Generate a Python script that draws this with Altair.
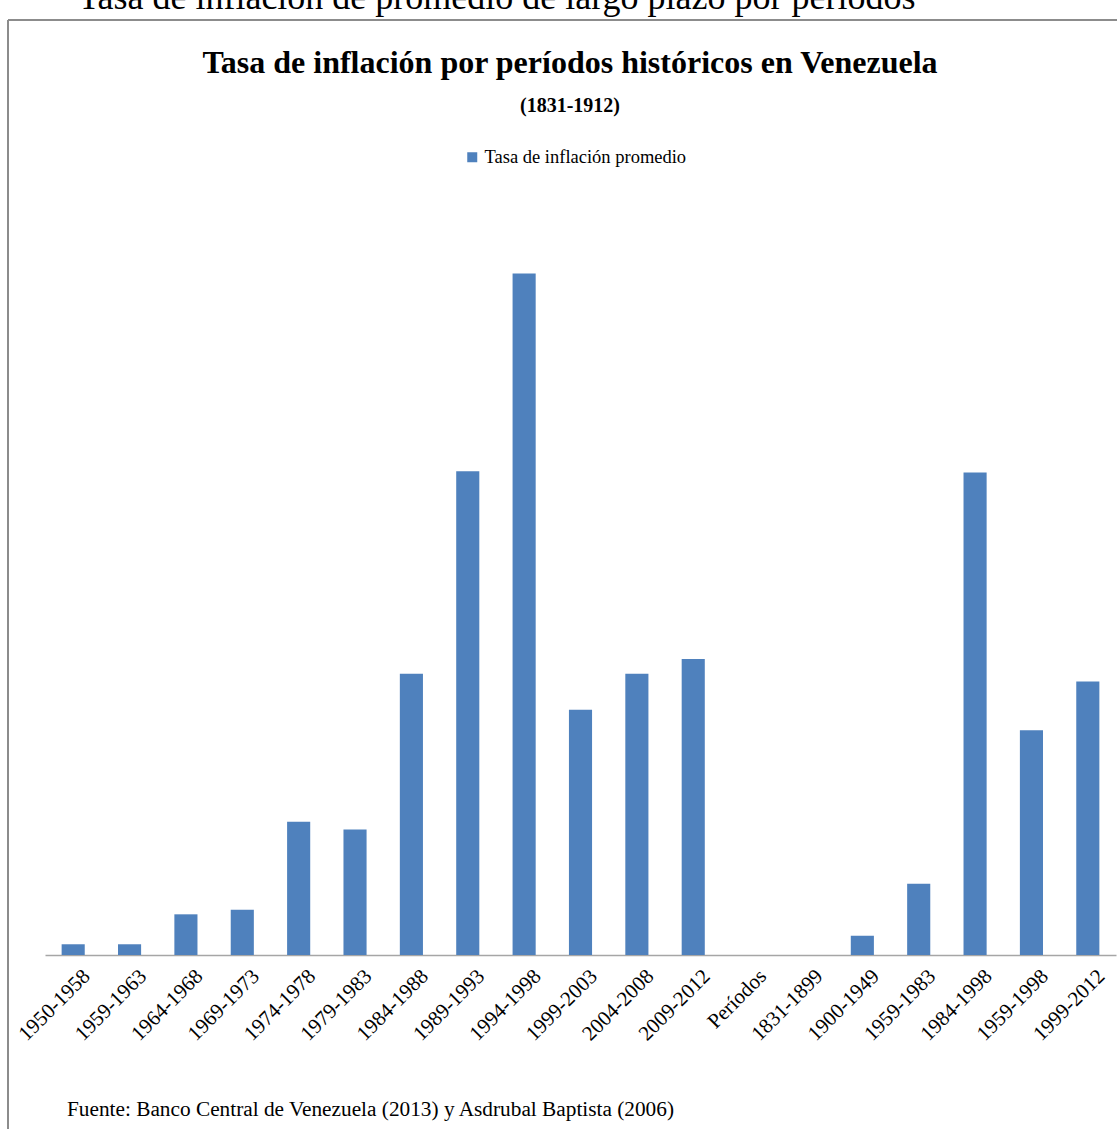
import altair as alt
import pandas as pd

# Periods (x axis) and average inflation rate per period (%)
periodos = [
    "1950-1958", "1959-1963", "1964-1968", "1969-1973", "1974-1978",
    "1979-1983", "1984-1988", "1989-1993", "1994-1998", "1999-2003",
    "2004-2008", "2009-2012", "Períodos", "1831-1899", "1900-1949",
    "1959-1983", "1984-1998", "1959-1998", "1999-2012",
]
inflacion = [
    0.95, 0.95, 3.6, 4.0, 11.8,
    11.1, 24.9, 42.8, 60.3, 21.7,
    24.9, 26.2, 0.0, 0.0, 1.7,
    6.3, 42.7, 19.9, 24.2,
]
serie = "Tasa de inflación promedio"

titulo_superior = "Tasa de inflación de promedio de largo plazo por períodos"
titulo = "Tasa de inflación por períodos históricos  en Venezuela"
subtitulo = "(1831-1912)"
fuente = "Fuente: Banco Central de Venezuela (2013) y Asdrubal Baptista (2006)"

FONT = "Liberation Serif"
BLUE = "#4f81bd"
FRAME = "#8c8c8c"

df = pd.DataFrame({"periodo": periodos, "valor": inflacion, "serie": [serie] * len(periodos)})

bars = alt.Chart(df).mark_bar(color=BLUE).encode(
    x=alt.X(
        "periodo:N",
        sort=periodos,
        title=None,
        scale=alt.Scale(paddingInner=0.59, paddingOuter=0.295),
        axis=alt.Axis(
            labelAngle=-45,
            labelFont=FONT,
            labelFontSize=21,
            labelColor="black",
            labelPadding=10,
            labelOffset=6,
            domainColor="#a6a6a6",
            domainWidth=1.5,
            ticks=False,
            labelOverlap=False,
        ),
    ),
    y=alt.Y("valor:Q", scale=alt.Scale(domain=[0, 70]), axis=None),
    color=alt.Color(
        "serie:N",
        scale=alt.Scale(range=[BLUE]),
        legend=alt.Legend(
            title=None,
            orient="none",
            legendX=418,
            legendY=-16,
            symbolType="square",
            symbolSize=100,
            symbolStrokeWidth=0,
            labelFont=FONT,
            labelFontSize=18.5,
            labelLimit=500,
            labelColor="black",
            labelOffset=3,
        ),
    ),
)


def texto(t, x, y, size, weight="normal", align="left"):
    return alt.Chart(pd.DataFrame({"t": [t]})).mark_text(
        font=FONT, fontSize=size, fontWeight=weight, align=align,
        baseline="alphabetic", color="black",
    ).encode(text="t:N", x=alt.value(x), y=alt.value(y))


# Outer frame (left and top edges of the chart box)
frame_left = alt.Chart(pd.DataFrame({"k": [0]})).mark_rule(color=FRAME, strokeWidth=2).encode(
    x=alt.value(-37), y=alt.value(-144), y2=alt.value(1000)
)
frame_top = alt.Chart(pd.DataFrame({"k": [0]})).mark_rule(color=FRAME, strokeWidth=2).encode(
    x=alt.value(-37), x2=alt.value(1080), y=alt.value(-144)
)

chart = alt.layer(
    frame_left,
    frame_top,
    texto(titulo_superior, 33, -155, 36),
    texto(titulo, 525, -91, 32, "bold", "center"),
    texto(subtitulo, 525, -52, 20, "bold", "center"),
    bars,
    texto(fuente, 22, 952, 21.3),
).properties(
    width=1071,
    height=791,
    autosize=alt.AutoSizeParams(type="none"),
    padding={"left": 45, "top": 164, "right": 1, "bottom": 174},
    background="white",
).configure_view(stroke=None)

chart.save("out.html", embed_options={"renderer": "svg", "actions": False})
